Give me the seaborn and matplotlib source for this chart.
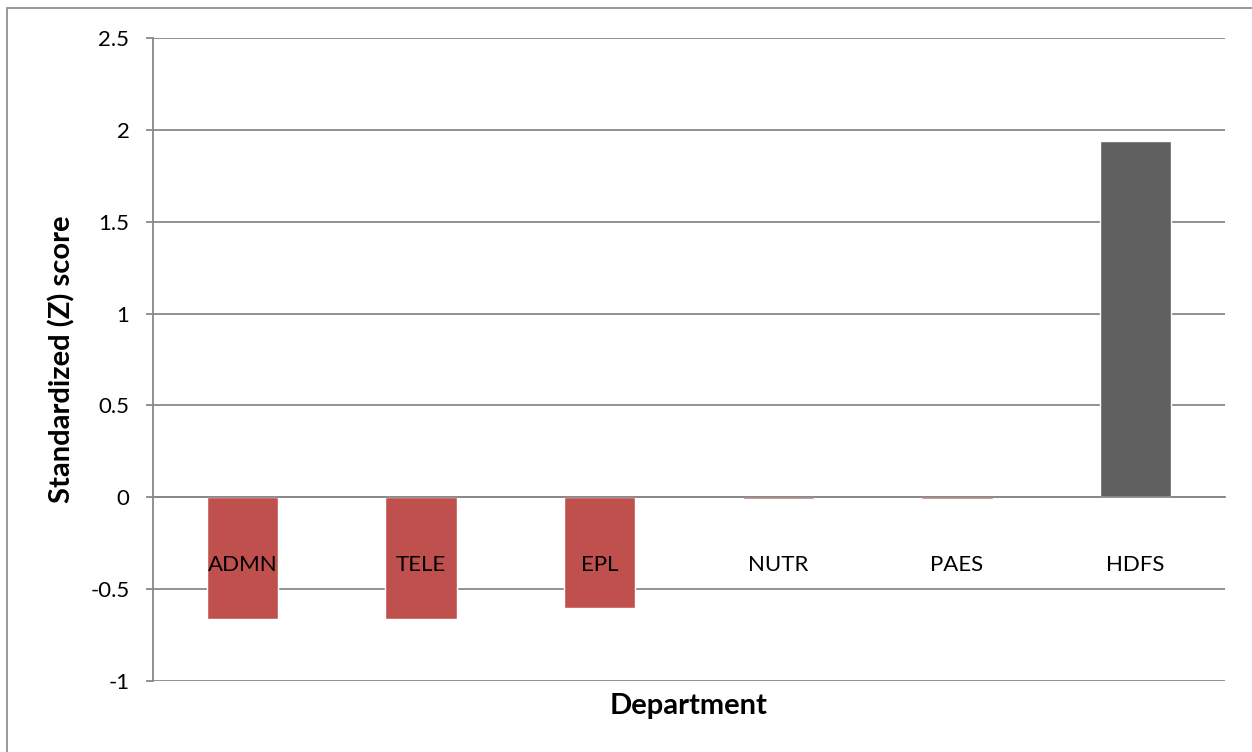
import matplotlib
matplotlib.use("Agg")
import matplotlib.pyplot as plt
import matplotlib.transforms as mtransforms
from matplotlib.patches import Rectangle
import seaborn as sns
import pandas as pd

# data
departments = ["ADMN", "TELE", "EPL", "NUTR", "PAES", "HDFS"]
z_scores = [-0.66, -0.66, -0.60, -0.01, -0.01, 1.94]
bar_colors = ["#C0504D", "#C0504D", "#C0504D", "#C0504D", "#C0504D", "#606060"]
y_ticks = [-1, -0.5, 0, 0.5, 1, 1.5, 2, 2.5]
y_tick_labels = ["-1", "-0.5", "0", "0.5", "1", "1.5", "2", "2.5"]

df = pd.DataFrame({"Department": departments, "Z": z_scores})

sns.set_style("white")
plt.rcParams["font.family"] = ["Lato", "DejaVu Sans"]

grid_col = "#888888"
W, H = 1252, 752
fig = plt.figure(figsize=(W / 100, H / 100), dpi=100)

# outer chart frame (runs off the right / bottom edge like the reference)
fig.patches.append(Rectangle((7 / W, -0.1), 1.2, 1 - 8 / H + 0.1, transform=fig.transFigure,
                             fill=False, edgecolor=grid_col, linewidth=1.2))

ax = fig.add_axes([153 / W, (H - 681) / H, (1225 - 153) / W, (681 - 38) / H])

sns.barplot(data=df, x="Department", y="Z", hue="Department", palette=bar_colors,
            legend=False, width=0.4, saturation=1, ax=ax, zorder=3)

ax.set_xlim(-0.5, len(departments) - 0.5)
ax.set_ylim(-1, 2.5)
ax.set_yticks(y_ticks)
ax.set_yticklabels(y_tick_labels)
ax.yaxis.grid(True, color=grid_col, linewidth=1.3)
ax.set_axisbelow(True)

for s in ["top", "right"]:
    ax.spines[s].set_visible(False)
ax.spines["left"].set_color(grid_col)
ax.spines["left"].set_linewidth(1.3)
ax.spines["bottom"].set_position(("data", 0))
ax.spines["bottom"].set_color(grid_col)
ax.spines["bottom"].set_linewidth(1.3)
ax.spines["bottom"].set_zorder(4)

# x ticks at category boundaries, labels written inside the plot
ax.set_xticks([i + 0.5 for i in range(-1, len(departments))])
ax.set_xticklabels([])
ax.tick_params(axis="x", direction="out", length=5, width=1.3, color=grid_col)
ax.tick_params(axis="y", direction="out", length=5, width=1.3, color=grid_col,
               labelsize=16, labelcolor="black", pad=12, left=True)

trans = mtransforms.blended_transform_factory(ax.transData, ax.transData)
for i, name in enumerate(departments):
    ax.text(i, -0.37, name, ha="center", va="center", fontsize=16, color="black",
            transform=trans, zorder=5)

ax.set_ylabel("Standardized (Z) score", fontsize=21, fontweight="bold", va="center",
              color="black")
ax.yaxis.set_label_coords(-0.085, 0.5)
ax.set_xlabel("Department", fontsize=21, fontweight="bold", va="center", color="black")
ax.xaxis.set_label_coords(0.5, -0.039)

fig.savefig("out.png", dpi=100, facecolor="white")
